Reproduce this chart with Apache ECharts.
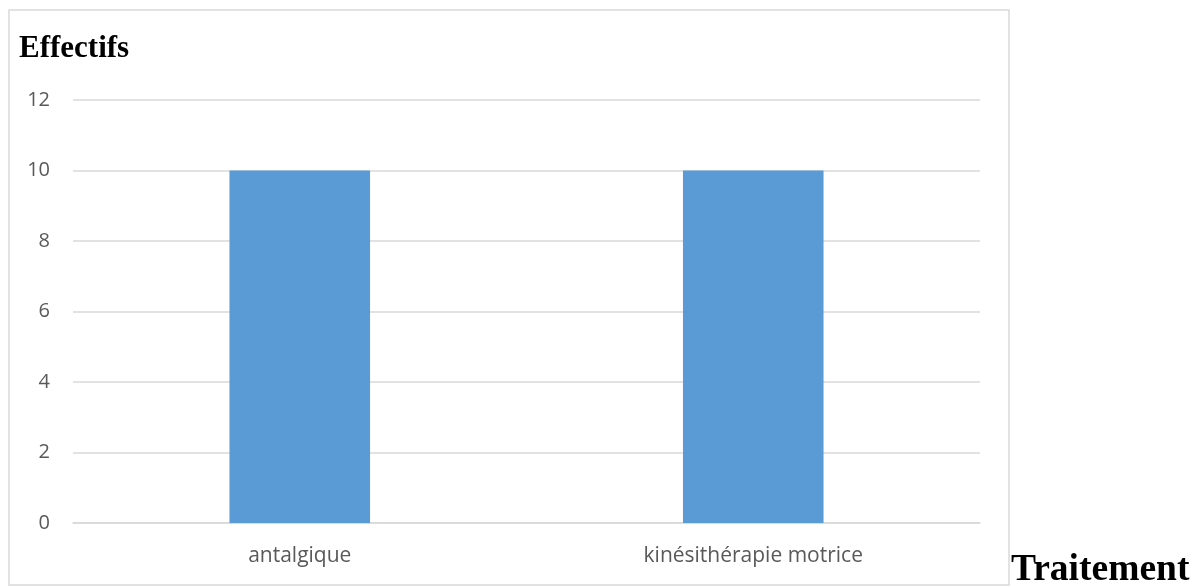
<!DOCTYPE html>
<html>
<head>
<meta charset="utf-8">
<script src="https://cdn.jsdelivr.net/npm/echarts@6/dist/echarts.min.js"></script>
<style>
  html, body { margin: 0; padding: 0; background: #ffffff; }
  #chart { width: 1197px; height: 587px; }
</style>
</head>
<body>
<div id="chart"></div>
<script>
// Treatment categories and counts
const categories = ['antalgique', 'kinésithérapie motrice'];
const effectifs = [10, 10];
const yTicks = { min: 0, max: 12, interval: 2 };

const chart = echarts.init(document.getElementById('chart'), null, { renderer: 'canvas' });

chart.setOption({
  animation: false,
  backgroundColor: '#ffffff',
  grid: { left: 73, right: 217, top: 100, bottom: 64, containLabel: false },
  xAxis: {
    type: 'category',
    data: categories,
    axisLine: { show: true, lineStyle: { color: '#d9d9d9', width: 1.5 } },
    axisTick: { show: false },
    axisLabel: {
      color: '#595959',
      fontFamily: 'Open Sans',
      fontSize: 21,
      margin: 23
    }
  },
  yAxis: {
    type: 'value',
    min: yTicks.min,
    max: yTicks.max,
    interval: yTicks.interval,
    axisLine: { show: false },
    axisTick: { show: false },
    splitLine: { lineStyle: { color: '#d9d9d9', width: 1.5 } },
    axisLabel: {
      color: '#595959',
      fontFamily: 'Open Sans',
      fontSize: 20,
      margin: 23
    }
  },
  series: [{
    type: 'bar',
    data: effectifs,
    barWidth: '31%',
    itemStyle: { color: '#5b9bd5' }
  }],
  graphic: [
    {
      type: 'rect',
      shape: { x: 9, y: 10, width: 1000, height: 575 },
      style: { fill: null, stroke: '#d9d9d9', lineWidth: 1.5 },
      silent: true
    },
    {
      type: 'text',
      left: 19,
      top: 33,
      style: {
        text: 'Effectifs',
        font: 'bold 31px "Liberation Serif", "Times New Roman", serif',
        fill: '#000000'
      }
    },
    {
      type: 'text',
      left: 1011,
      top: 551,
      style: {
        text: 'Traitement',
        font: 'bold 37.5px "Liberation Serif", "Times New Roman", serif',
        fill: '#000000'
      }
    }
  ]
});
</script>
</body>
</html>
